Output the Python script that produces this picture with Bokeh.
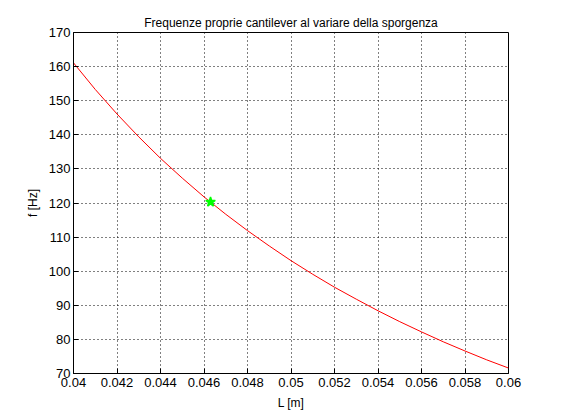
from bokeh.plotting import figure
from bokeh.models import FixedTicker, Range1d
from bokeh.embed import file_html
from bokeh.resources import INLINE

# data
L_vals = [0.040, 0.041, 0.042, 0.043, 0.044, 0.045, 0.046, 0.047, 0.048, 0.049, 0.050,
          0.051, 0.052, 0.053, 0.054, 0.055, 0.056, 0.057, 0.058, 0.059, 0.060]
f_vals = [161.1, 153.3, 146.1, 139.4, 133.1, 127.3, 121.8, 116.7, 111.9, 107.4, 103.1,
          99.1, 95.3, 91.8, 88.4, 85.2, 82.2, 79.3, 76.6, 74.0, 71.6]
L_point = [0.0463]
f_point = [120.3]

x_ticks = [0.04, 0.042, 0.044, 0.046, 0.048, 0.05, 0.052, 0.054, 0.056, 0.058, 0.06]
x_tick_labels = ["0.04", "0.042", "0.044", "0.046", "0.048", "0.05", "0.052", "0.054", "0.056", "0.058", "0.06"]
y_ticks = [70, 80, 90, 100, 110, 120, 130, 140, 150, 160, 170]

title_text = "Frequenze proprie cantilever al variare della sporgenza"
x_label = "L [m]"
y_label = "f [Hz]"

FONT = "Liberation Sans"

p = figure(width=553, height=412, output_backend="svg", toolbar_location=None,
           x_range=Range1d(0.04, 0.06), y_range=Range1d(70, 170),
           min_border_left=73, min_border_right=45, min_border_top=32, min_border_bottom=38,
           background_fill_color="white", border_fill_color="white")

p.title.text = title_text
p.title.align = "center"
p.title.text_font = FONT
p.title.text_font_size = "12px"
p.title.text_font_style = "normal"
p.title.text_color = "black"
p.title.offset = 0
p.title.standoff = 6

p.outline_line_color = "black"
p.outline_line_width = 1

for ax in p.xaxis:
    ax.ticker = FixedTicker(ticks=x_ticks)
    ax.major_label_overrides = {t: s for t, s in zip(x_ticks, x_tick_labels)}
    ax.axis_label = x_label
    ax.major_label_standoff = 4
for ax in p.yaxis:
    ax.ticker = FixedTicker(ticks=y_ticks)
    ax.axis_label = y_label
    ax.major_label_standoff = 3

for ax in list(p.xaxis) + list(p.yaxis):
    ax.major_tick_in = 5
    ax.major_tick_out = 0
    ax.minor_tick_in = 0
    ax.minor_tick_out = 0
    ax.axis_line_color = "black"
    ax.major_tick_line_color = "black"
    ax.major_label_text_font = FONT
    ax.major_label_text_font_size = "13px"
    ax.major_label_text_color = "black"
    ax.axis_label_text_font = FONT
    ax.axis_label_text_font_size = "12px"
    ax.axis_label_text_font_style = "normal"
    ax.axis_label_text_color = "black"
    ax.axis_label_standoff = 6

for g in list(p.xgrid) + list(p.ygrid):
    g.grid_line_color = "black"
    g.grid_line_dash = "1 3"
    g.grid_line_width = 1
    g.grid_line_alpha = 1.0

p.line(L_vals, f_vals, line_color="red", line_width=1)
p.scatter(L_point, f_point, marker="star", size=10, fill_color="#00ff00",
          line_color="#00ff00", line_width=1.5)

open("out.html", "w").write(file_html(p, INLINE))
